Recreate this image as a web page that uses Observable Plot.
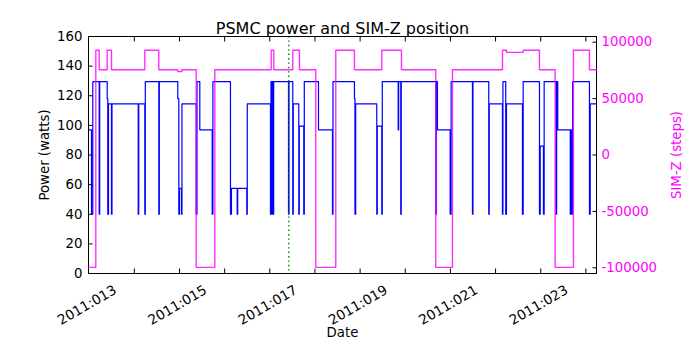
<!DOCTYPE html>
<html><head><meta charset="utf-8">
<script src="https://cdn.jsdelivr.net/npm/d3@7"></script>
<script src="https://cdn.jsdelivr.net/npm/@observablehq/plot@0.6"></script>
<style>
body{margin:0;background:#fff;}
#chart{position:relative;width:700px;height:350px;background:#fff;}
#chart svg{position:absolute;left:0;top:0;}
</style></head><body><div id="chart"></div>
<script>
// Power (watts), step changes; day = fractional day-of-year 2011
const powerDay = [
 11.985, 12.051, 12.080, 12.222, 12.233, 12.399, 12.412, 12.428, 12.494, 12.505,
 13.086, 13.097, 13.232, 13.243, 13.542, 13.553, 13.962, 13.985, 14.000, 14.044,
 14.055, 14.370, 14.388, 14.450, 14.724, 14.740, 15.129, 15.151, 15.278, 15.289,
 15.490, 15.501, 16.015, 16.026, 16.044, 16.059, 16.075, 16.086, 16.414, 16.425,
 16.509, 16.520, 16.642, 16.653, 16.752, 16.764, 17.078, 17.388, 17.399, 17.875,
 17.886, 17.902, 18.369, 18.380, 18.480, 18.491, 18.843, 18.854, 18.900, 18.911,
 19.675, 19.686, 19.713, 19.994, 20.016, 20.488, 20.499, 20.849, 20.860, 21.152,
 21.163, 21.225, 21.241, 21.595, 21.611, 21.972, 21.989, 22.060, 22.076, 22.339,
 22.352, 22.377, 22.654, 22.669, 22.685, 22.707, 23.079, 23.096, 23.235
];
const powerWatts = [
 97, 40, 129.5, 40, 129.5, 118, 40, 114.5, 40, 114.5,
 40, 114.5, 40, 129.5, 40, 129.5, 118, 40, 57.5, 40,
 114.5, 40, 129.5, 97, 40, 129.5, 40, 57.5, 40, 57.5,
 40, 114.5, 40, 129.5, 40, 129.5, 40, 129.5, 40, 129.5,
 40, 114.5, 40, 99.5, 40, 129.5, 97, 40, 129.5, 118,
 40, 114.5, 40, 99.5, 40, 129.5, 97, 129.5, 40, 129.5,
 40, 129.5, 97, 40, 129.5, 40, 129.5, 40, 114.5, 40,
 129.5, 40, 114.5, 40, 129.5, 40, 86, 40, 129.5, 40,
 129.5, 97, 40, 97, 40, 129.5, 40, 114.5, 114.5
];
// SIM-Z position (steps)
const simzDay = [
 11.985, 12.147, 12.222, 12.399, 12.494, 13.232, 13.542, 13.962, 14.051, 14.370,
 14.782, 16.031, 16.088, 16.509, 16.657, 17.018, 17.461, 17.875, 18.480, 18.916,
 19.675, 20.045, 21.152, 21.241, 21.611, 21.972, 22.319, 22.724, 23.079, 23.235
];
const simzSteps = [
 -99616, 92904, 75624, 92904, 75624, 92904, 75624, 74000, 75624, -99616,
 75624, 92904, 75624, 92904, 75624, -99616, 92904, 75624, 92904, 75624,
 -99616, 75624, 92904, 91000, 92904, 75624, -99616, 92904, 75624, 75624
];
const markerDay = [16.42];
const xTickDays = [13, 14, 15, 16, 17, 18, 19, 20, 21, 22, 23];
const xTickLabels = ["2011:013", "", "2011:015", "", "2011:017", "", "2011:019", "", "2011:021", "", "2011:023"];
const powerTicks = [0, 20, 40, 60, 80, 100, 120, 140, 160];
const simzTicks = [-100000, -50000, 0, 50000, 100000];
const simzTickLabels = ["-100000", "-50000", "0", "50000", "100000"];
const titleText = "PSMC power and SIM-Z position";
const powerLabel = "Power (watts)";
const simzLabel = "SIM-Z (steps)";
const dateLabel = "Date";

const xDomain = [11.985, 23.235];
const powerDomain = [0, 160];
const simzDomain = [-105050, 105050];

const power = powerDay.map((d, i) => ({day: d, watts: powerWatts[i]}));
const simz = simzDay.map((d, i) => ({day: d, steps: simzSteps[i]}));

const layout = {width: 700, height: 350, marginLeft: 88, marginRight: 104, marginTop: 36, marginBottom: 77};
const style = {fontFamily: "DejaVu Sans, sans-serif", fontSize: "13.3px", background: "transparent", overflow: "visible"};
const TK = -4.5;

const p1 = Plot.plot({
  ...layout, style,
  x: {type: "linear", domain: xDomain},
  y: {domain: powerDomain},
  marks: [
    Plot.line(power, {x: "day", y: "watts", curve: "step-after", stroke: "#0000ff", strokeWidth: 1.2}),
    Plot.ruleX(markerDay, {stroke: "#008000", strokeWidth: 1.4, strokeDasharray: "1.4,3"}),
    Plot.axisY({ticks: powerTicks, anchor: "left", tickSize: TK, tickFormat: () => "", label: null}),
    Plot.axisY({ticks: powerTicks, anchor: "left", tickSize: 0, tickPadding: 6, label: null, fontSize: 13.3, fill: "black"}),
    Plot.axisX({ticks: xTickDays, anchor: "bottom", tickSize: TK, tickFormat: () => "", label: null}),
    Plot.axisX({ticks: xTickDays, anchor: "top", tickSize: TK, tickFormat: () => "", label: null}),
    Plot.axisX({ticks: xTickDays, anchor: "bottom", tickSize: 0, tickPadding: 15.5, tickRotate: -30, dx: -19,
      tickFormat: d => xTickLabels[xTickDays.indexOf(d)], label: null, fontSize: 13.6, fill: "black"}),
    Plot.frame({stroke: "black", strokeWidth: 1}),
    Plot.text([titleText], {frameAnchor: "top", dy: -14, fontSize: 16, fill: "black"}),
    Plot.text([powerLabel], {frameAnchor: "left", textAnchor: "middle", rotate: -90, dx: -44, fontSize: 13.3, fill: "black"}),
    Plot.text([dateLabel], {frameAnchor: "bottom", dy: 63, fontSize: 13.3, fill: "black"})
  ]
});

const p2 = Plot.plot({
  ...layout, style,
  x: {type: "linear", domain: xDomain, axis: null},
  y: {domain: simzDomain},
  marks: [
    Plot.line(simz, {x: "day", y: "steps", curve: "step-after", stroke: "#ff00ff", strokeWidth: 1.4, strokeOpacity: 0.82}),
    Plot.axisY({ticks: simzTicks, anchor: "right", tickSize: TK, tickFormat: () => "", label: null}),
    Plot.axisY({ticks: simzTicks, anchor: "right", tickSize: 0, tickPadding: 5, label: null, fontSize: 13.3,
      color: "#ff00ff", tickFormat: d => simzTickLabels[simzTicks.indexOf(d)]}),
    Plot.text([simzLabel], {frameAnchor: "right", textAnchor: "middle", rotate: -90, dx: 80, fontSize: 13.3, fill: "#ff00ff"})
  ]
});

const c = document.getElementById("chart");
c.appendChild(p1);
c.appendChild(p2);
</script></body></html>
